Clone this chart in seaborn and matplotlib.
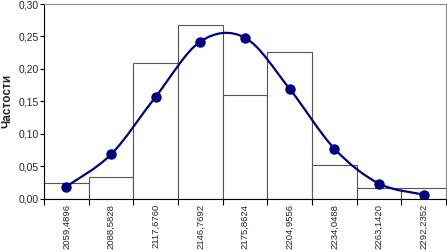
import matplotlib
matplotlib.use("Agg")
import matplotlib.pyplot as plt
from matplotlib.path import Path
from matplotlib.patches import PathPatch
from matplotlib.ticker import FuncFormatter, FixedLocator
import seaborn as sns
import pandas as pd

# границы интервалов (подписи оси X)
bin_values = [2059.4896, 2088.5828, 2117.6760, 2146.7692, 2175.8624,
              2204.9556, 2234.0488, 2263.1420, 2292.2352]
# эмпирические частости (гистограмма)
observed = [0.024, 0.033, 0.209, 0.268, 0.159, 0.226, 0.051, 0.016, 0.016]
# теоретические частости (сглаженная кривая)
expected = [0.0185, 0.068, 0.157, 0.242, 0.248, 0.169, 0.077, 0.023, 0.006]

labels = [f"{v:.4f}".replace(".", ",") for v in bin_values]

sns.set_theme(style="white")
plt.rcParams['font.family'] = ['Liberation Sans', 'DejaVu Sans']

df = pd.DataFrame({'bin': labels, 'freq': observed})

fig, ax = plt.subplots(figsize=(4.47, 2.52), dpi=100)
fig.subplots_adjust(left=44 / 447, right=446 / 447, top=1 - 4 / 252, bottom=1 - 198.5 / 252)

sns.barplot(data=df, x='bin', y='freq', order=labels, color='white', saturation=1,
            edgecolor='#555555', linewidth=0.8, width=1.0, ax=ax)

# сглаженная линия (кривая Безье по точкам, как в Excel)
pts = list(enumerate(expected))
verts = [pts[0]]
codes = [Path.MOVETO]
n = len(pts)
for i in range(n - 1):
    p0 = pts[max(i - 1, 0)]
    p1 = pts[i]
    p2 = pts[i + 1]
    p3 = pts[min(i + 2, n - 1)]
    c1 = (p1[0] + (p2[0] - p0[0]) / 6, p1[1] + (p2[1] - p0[1]) / 6)
    c2 = (p2[0] - (p3[0] - p1[0]) / 6, p2[1] - (p3[1] - p1[1]) / 6)
    verts += [c1, c2, p2]
    codes += [Path.CURVE4] * 3
ax.add_patch(PathPatch(Path(verts, codes), fill=False, edgecolor='#000080', lw=1.6, zorder=3))
ax.plot(range(n), expected, linestyle='none', marker='o', markersize=6.5,
        color='#000080', zorder=4)

ax.set_xlim(-0.5, n - 0.5)
ax.set_ylim(0, 0.30)
ax.set_yticks([0, 0.05, 0.10, 0.15, 0.20, 0.25, 0.30])
ax.yaxis.set_major_formatter(FuncFormatter(lambda v, p: f"{v:.2f}".replace(".", ",")))

ax.set_xticks(range(n))
ax.set_xticklabels(labels, rotation=90, fontsize=6.8)
ax.xaxis.set_minor_locator(FixedLocator([k - 0.5 for k in range(n + 1)]))
ax.tick_params(axis='x', which='major', length=0, pad=4)
ax.tick_params(axis='x', which='minor', length=4, width=0.8, color='black', direction='out', bottom=True)
ax.tick_params(axis='y', length=3, width=0.8, color='black', direction='out', left=True,
               labelsize=7.5, pad=1)

ax.set_xlabel('')
ax.set_ylabel('Частости', fontsize=8.5, fontweight='bold')
ax.yaxis.set_label_coords(-0.077, 0.5)

for side in ['left', 'bottom']:
    ax.spines[side].set_color('black')
    ax.spines[side].set_linewidth(0.8)
for side in ['top', 'right']:
    ax.spines[side].set_color('#888888')
    ax.spines[side].set_linewidth(0.8)

fig.savefig('out.png', dpi=100)
plt.close(fig)
